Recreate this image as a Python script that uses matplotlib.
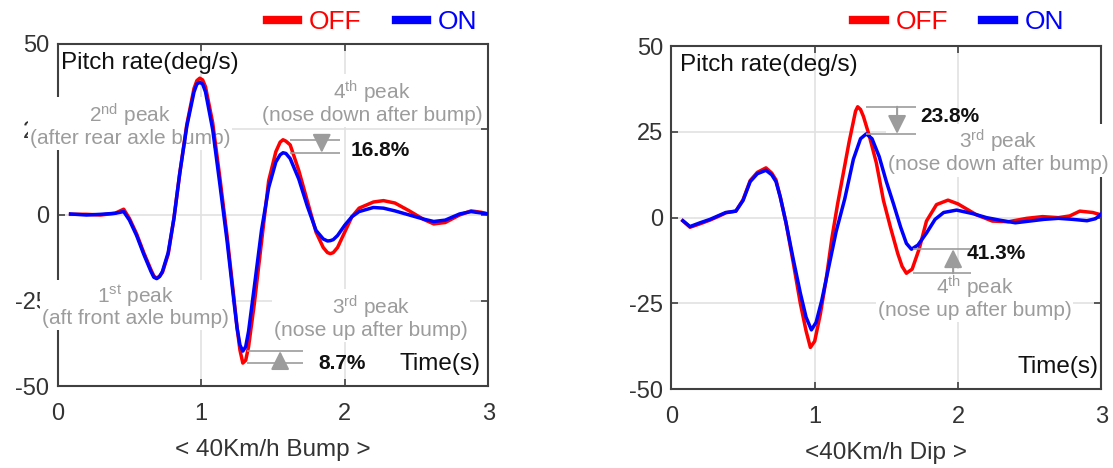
import numpy as np
import matplotlib.pyplot as plt

plt.rcParams['font.family'] = ['Liberation Sans', 'DejaVu Sans']
plt.rcParams['mathtext.fontset'] = 'custom'
plt.rcParams['mathtext.rm'] = 'Liberation Sans'
plt.rcParams['mathtext.it'] = 'Liberation Sans:italic'
plt.rcParams['mathtext.bf'] = 'Liberation Sans:bold'
plt.rcParams['axes.unicode_minus'] = False

# < 40Km/h Bump > : pitch rate (deg/s) vs time (s)
bump_time = [0.09, 0.2, 0.3, 0.4, 0.46, 0.5, 0.55, 0.6, 0.65, 0.67,
             0.69, 0.71, 0.73, 0.77, 0.81, 0.85, 0.9, 0.95, 0.97, 0.99,
             1.01, 1.03, 1.08, 1.13, 1.18, 1.23, 1.25, 1.27, 1.29, 1.31,
             1.33, 1.37, 1.42, 1.47, 1.52, 1.55, 1.57, 1.59, 1.62, 1.68,
             1.74, 1.8, 1.85, 1.88, 1.9, 1.92, 1.95, 2.0, 2.05, 2.1,
             2.2, 2.27, 2.35, 2.45, 2.55, 2.62, 2.7, 2.8, 2.88, 2.95, 3.0]
bump_off = [0.2, 0.2, 0.0, 0.5, 1.7, -1.0, -5.5, -11.0, -16.0, -17.8,
            -18.5, -17.9, -16.8, -11.5, -1.0, 12.0, 26.5, 37.0, 39.3, 40.0,
            39.5, 37.5, 27.0, 11.0, -6.0, -25.0, -33.0, -39.5, -43.3, -42.5,
            -38.5, -26.0, -8.0, 10.0, 18.5, 21.3, 22.0, 21.6, 20.5, 13.0,
            4.0, -5.0, -9.5, -11.0, -11.3, -11.0, -9.5, -5.0, -0.5, 2.0,
            3.8, 4.2, 3.5, 1.2, -1.3, -2.6, -2.2, 0.0, 1.2, 0.8, 0.3]
bump_on = [0.3, 0.0, 0.2, 0.5, 1.0, -1.5, -6.0, -11.5, -16.5, -18.2,
           -18.6, -18.0, -16.5, -11.0, -1.0, 12.0, 26.0, 36.0, 38.3, 38.8,
           38.3, 36.0, 25.0, 9.0, -7.5, -26.0, -33.0, -38.0, -39.8, -38.5,
           -34.0, -21.0, -4.5, 8.0, 15.5, 17.6, 18.2, 18.0, 16.5, 10.5,
           2.5, -4.5, -7.0, -7.6, -7.5, -7.2, -6.0, -3.0, -0.5, 1.0,
           2.2, 2.0, 1.2, 0.0, -1.2, -1.9, -1.5, 0.3, 1.0, 0.6, 0.3]

# < 40Km/h Dip >
dip_time_off = [0.08, 0.13, 0.2, 0.27, 0.33, 0.38, 0.45, 0.5, 0.55, 0.6,
                0.66, 0.7, 0.73, 0.76, 0.8, 0.85, 0.9, 0.94, 0.97, 1.0,
                1.04, 1.08, 1.12, 1.16, 1.2, 1.24, 1.27, 1.285, 1.3, 1.32,
                1.34, 1.38, 1.43, 1.48, 1.53, 1.58, 1.61, 1.64, 1.68, 1.73,
                1.78, 1.85, 1.93, 2.0, 2.13, 2.24, 2.35, 2.48, 2.59, 2.7,
                2.78, 2.85, 2.94, 3.0]
dip_off = [-0.9, -2.8, -1.8, -0.7, 0.4, 1.4, 1.9, 5.2, 10.8, 13.2,
           14.5, 13.0, 11.0, 6.0, -1.5, -13.0, -25.0, -33.0, -37.8, -36.0,
           -28.0, -18.0, -6.0, 4.0, 13.0, 22.0, 28.0, 31.0, 32.3, 31.5,
           29.5, 24.0, 16.0, 5.0, -3.0, -10.5, -14.2, -16.2, -15.0, -9.0,
           -1.0, 3.8, 5.1, 4.0, 0.8, -1.0, -1.2, -0.2, 0.3, 0.0,
           0.5, 1.9, 1.5, 0.8]
dip_time_on = [0.08, 0.13, 0.2, 0.27, 0.33, 0.38, 0.45, 0.5, 0.55, 0.6,
               0.66, 0.7, 0.73, 0.76, 0.8, 0.85, 0.9, 0.94, 0.977, 1.01,
               1.05, 1.1, 1.15, 1.21, 1.27, 1.32, 1.36, 1.4, 1.45, 1.5,
               1.55, 1.6, 1.64, 1.675, 1.72, 1.78, 1.84, 1.9, 1.99, 2.1,
               2.2, 2.3, 2.4, 2.5, 2.6, 2.7, 2.8, 2.9, 2.96, 3.0]
dip_on = [-0.9, -2.6, -1.5, -0.5, 0.6, 1.5, 1.9, 5.0, 10.5, 12.8,
          13.8, 12.5, 10.5, 6.0, -1.5, -12.0, -22.0, -29.0, -32.7, -30.5,
          -24.0, -14.0, -4.0, 5.5, 17.0, 23.0, 24.4, 23.0, 17.8, 10.5,
          4.0, -2.8, -7.5, -9.2, -8.0, -4.5, -0.5, 1.5, 2.2, 1.2,
          0.0, -0.8, -1.5, -1.0, -0.5, -0.2, -0.5, -0.9, -0.3, 1.1]

bump_reduction = ['16.8%', '8.7%']
dip_reduction = ['23.8%', '41.3%']

GRAY = '#9c9c9c'
DARK = '#333333'


def style_axes(ax, xlabel, pitch_x, time_x):
    ax.set_xlim(0, 3)
    ax.set_ylim(-50, 50)
    ax.set_xticks([0, 1, 2, 3])
    ax.set_yticks([-50, -25, 0, 25, 50])
    ax.grid(True, color='#e2e2e2', lw=1.2)
    ax.tick_params(direction='in', top=True, right=True, length=5, width=1.2,
                   color='#404040', labelsize=17, labelcolor=DARK)
    ax.tick_params(axis='x', pad=12)
    ax.tick_params(axis='y', pad=6)
    for s in ax.spines.values():
        s.set_color('#404040')
        s.set_linewidth(1.5)
    ax.set_xlabel(xlabel, fontsize=17.5, color=DARK, labelpad=10)
    ax.text(pitch_x, 44.5, 'Pitch rate(deg/s)', fontsize=17.5, color='#111111',
            va='center', ha='left')
    ax.text(time_x, -43.6, 'Time(s)', fontsize=17.5, color='#111111',
            va='center', ha='right')


def note(ax, x, y, txt):
    # white box hides grid and frame behind the label, curves stay on top
    ax.text(x, y, txt, fontsize=15, color=GRAY, ha='center', va='center',
            linespacing=1.0, zorder=2.8, clip_on=False,
            bbox=dict(facecolor='white', edgecolor='none', pad=1.5))


def peak(t, v, window, kind):
    t = np.asarray(t)
    v = np.asarray(v)
    m = (t >= window[0]) & (t <= window[1])
    return v[m].max() if kind == 'max' else v[m].min()


def reduction(ax, lev_off, lev_on, x0, x1, xa, txt, txt_xy):
    ax.hlines([lev_off, lev_on], x0, x1, color=GRAY, lw=1.2, zorder=4)
    ax.annotate('', xy=(xa, lev_on), xytext=(xa, lev_off),
                arrowprops=dict(arrowstyle='-|>,head_length=0.8,head_width=0.4',
                                color=GRAY, lw=1.5, mutation_scale=14,
                                shrinkA=0, shrinkB=0),
                zorder=4)
    ax.text(txt_xy[0], txt_xy[1], txt, fontsize=15, fontweight='bold',
            color='#111111', ha='left', va='center', zorder=5)


fig = plt.figure(figsize=(11.13, 4.68), dpi=100)
ax1 = fig.add_axes([0.0518, 0.1752, 0.3869, 0.7308])
ax2 = fig.add_axes([0.6032, 0.1682, 0.3863, 0.7335])

# left: bump
l_off, = ax1.plot(bump_time, bump_off, color='#ff0000', lw=2.5, label='OFF', zorder=3)
l_on, = ax1.plot(bump_time, bump_on, color='#0000ff', lw=2.5, label='ON', zorder=3)
style_axes(ax1, '< 40Km/h Bump >', 0.023, 2.945)
note(ax1, 0.505, 26.3, '2$^{\\mathrm{nd}}$ peak\n(after rear axle bump)')
note(ax1, 2.19, 33.0, '4$^{\\mathrm{th}}$ peak\n(nose down after bump)')
note(ax1, 0.54, -26.6, '1$^{\\mathrm{st}}$ peak\n(aft front axle bump)')
note(ax1, 2.185, -29.7, '3$^{\\mathrm{rd}}$ peak\n(nose up after bump)')
reduction(ax1, peak(bump_time, bump_off, (1.45, 1.7), 'max'),
          peak(bump_time, bump_on, (1.45, 1.7), 'max'),
          1.62, 1.97, 1.84, bump_reduction[0], (2.04, 19.0))
reduction(ax1, peak(bump_time, bump_off, (1.2, 1.4), 'min'),
          peak(bump_time, bump_on, (1.2, 1.4), 'min'),
          1.32, 1.71, 1.55, bump_reduction[1], (1.815, -43.3))

# right: dip
r_off, = ax2.plot(dip_time_off, dip_off, color='#ff0000', lw=2.5, label='OFF', zorder=3)
r_on, = ax2.plot(dip_time_on, dip_on, color='#0000ff', lw=2.5, label='ON', zorder=3)
style_axes(ax2, '<40Km/h Dip >', 0.06, 2.98)
note(ax2, 2.28, 19.3, '3$^{\\mathrm{rd}}$ peak\n(nose down after bump)')
note(ax2, 2.115, -23.0, '4$^{\\mathrm{th}}$ peak\n(nose up after bump)')
reduction(ax2, peak(dip_time_off, dip_off, (1.2, 1.5), 'max'),
          peak(dip_time_on, dip_on, (1.2, 1.5), 'max'),
          1.36, 1.71, 1.575, dip_reduction[0], (1.74, 29.4))
reduction(ax2, peak(dip_time_off, dip_off, (1.5, 1.8), 'min'),
          peak(dip_time_on, dip_on, (1.5, 1.8), 'min'),
          1.686, 2.09, 1.966, dip_reduction[1], (2.057, -10.4))

# legends above each panel
for ax, handles, anchor in [(ax1, [l_off, l_on], (0.975, 1.064)),
                            (ax2, [r_off, r_on], (0.913, 1.07))]:
    leg = ax.legend(handles=handles, ncol=2, frameon=False, fontsize=19,
                    labelcolor='linecolor', handlelength=1.2, handletextpad=0.4,
                    columnspacing=1.3, loc='center right', bbox_to_anchor=anchor,
                    borderaxespad=0, borderpad=0)
    for line in leg.get_lines():
        line.set_linewidth(6)

fig.savefig('out.png', dpi=100)
